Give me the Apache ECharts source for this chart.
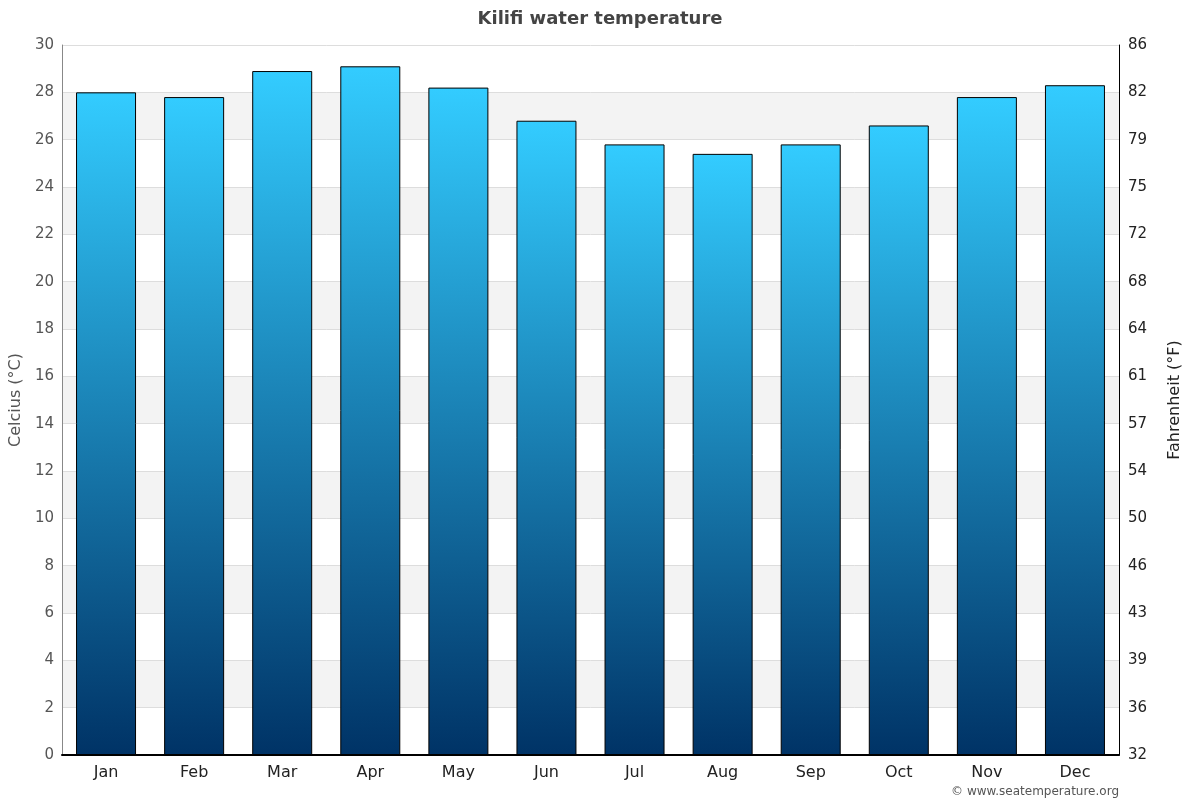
<!DOCTYPE html>
<html>
<head>
<meta charset="utf-8">
<script src="https://cdn.jsdelivr.net/npm/echarts@6/dist/echarts.min.js"></script>
<style>html,body{margin:0;padding:0;background:#fff}#c{width:1200px;height:800px}</style>
</head>
<body>
<div id="c"></div>
<script>
var months = ['Jan','Feb','Mar','Apr','May','Jun','Jul','Aug','Sep','Oct','Nov','Dec'];
var waterTempC = [28.0, 27.8, 28.9, 29.1, 28.2, 26.8, 25.8, 25.4, 25.8, 26.6, 27.8, 28.3];
var celsiusTicks = [0,2,4,6,8,10,12,14,16,18,20,22,24,26,28,30];
var fahrenheitTicks = [32,36,39,43,46,50,54,57,61,64,68,72,75,79,82,86];

var chart = echarts.init(document.getElementById('c'), null, {renderer:'canvas'});
var font = 'DejaVu Sans';
chart.setOption({
  animation: false,
  textStyle: {fontFamily: font},
  title: {
    text: 'Kilifi water temperature',
    left: 'center', top: 5,
    textStyle: {fontFamily: font, fontSize: 18, fontWeight: 'bold', color: '#444'}
  },
  graphic: [{
    type: 'text', right: 81, bottom: 2,
    style: {text: '© www.seatemperature.org', font: '12px "DejaVu Sans"', fill: '#555'}
  }],
  grid: {left: 59, right: 81, top: 45, bottom: 45, containLabel: false},
  xAxis: {
    type: 'category', data: months,
    axisLine: {lineStyle: {color: '#000', width: 2}},
    axisTick: {show: false},
    axisLabel: {fontSize: 16, color: '#222', margin: 10, fontFamily: font},
    splitLine: {show: false}
  },
  yAxis: [{
    type: 'value', min: 0, max: 30, interval: 2, position: 'left',
    name: 'Celcius (°C)', nameLocation: 'middle', nameGap: 38, nameRotate: 90,
    nameTextStyle: {fontSize: 16, color: '#555', fontFamily: font},
    axisLine: {show: true, lineStyle: {color: '#888', width: 1}},
    axisTick: {show: false},
    axisLabel: {fontSize: 15, color: '#555', margin: 8, fontFamily: font,
      formatter: function(v){ var i = celsiusTicks.indexOf(v); return i>=0 ? String(celsiusTicks[i]) : ''; }},
    splitLine: {show: true, lineStyle: {color: '#dddddd', width: 1}},
    splitArea: {show: true, areaStyle: {color: ['#ffffff', '#f3f3f3']}}
  }, {
    type: 'value', min: 0, max: 30, interval: 2, position: 'right',
    name: 'Fahrenheit (°F)', nameLocation: 'middle', nameGap: 48, nameRotate: 90,
    nameTextStyle: {fontSize: 16, color: '#222', fontFamily: font},
    axisLine: {show: true, lineStyle: {color: '#000', width: 1}},
    axisTick: {show: false},
    axisLabel: {fontSize: 15, color: '#222', margin: 9, fontFamily: font,
      formatter: function(v){ var i = celsiusTicks.indexOf(v); return i>=0 ? String(fahrenheitTicks[i]) : ''; }},
    splitLine: {show: false}
  }],
  series: [{
    type: 'bar', data: waterTempC, yAxisIndex: 0,
    barWidth: 60,
    itemStyle: {
      borderColor: '#000', borderWidth: 1,
      color: new echarts.graphic.LinearGradient(0, 0, 0, 1, [
        {offset: 0, color: '#33ccff'},
        {offset: 1, color: '#003366'}
      ], false)
    }
  }]
});
</script>
</body>
</html>
